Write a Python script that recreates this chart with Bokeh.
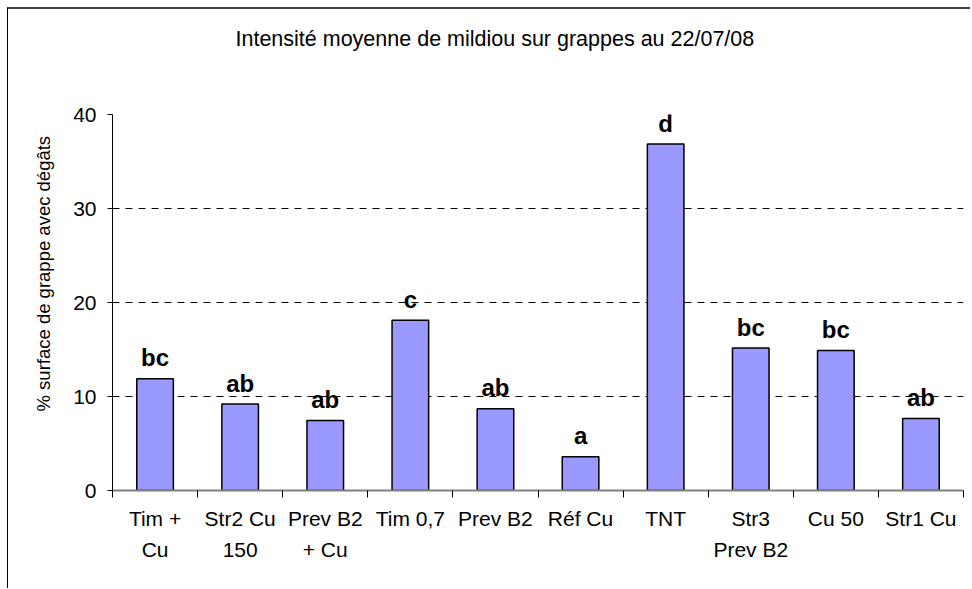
from bokeh.plotting import figure
from bokeh.models import (Range1d, LinearAxis, FixedTicker, ColumnDataSource, Title)
from bokeh.core.properties import value
from bokeh.embed import file_html
from bokeh.resources import INLINE

categories = ["Tim +\nCu", "Str2 Cu\n150", "Prev B2\n+ Cu", "Tim 0,7", "Prev B2",
              "Réf Cu", "TNT", "Str3\nPrev B2", "Cu 50", "Str1 Cu"]
values = [11.9, 9.2, 7.45, 18.1, 8.7, 3.6, 36.85, 15.15, 14.9, 7.65]
letters = ["bc", "ab", "ab", "c", "ab", "a", "d", "bc", "bc", "ab"]
y_ticks = [0, 10, 20, 30, 40]

title_text = "Intensité moyenne de mildiou sur grappes au 22/07/08"
y_label = "% surface de grappe avec dégâts"
FONT = "Liberation Sans"

n = len(categories)
centers = [i + 0.5 for i in range(n)]
bounds = list(range(n + 1))

p = figure(x_range=Range1d(0, n), y_range=Range1d(0, 40),
           frame_width=851, frame_height=376,
           min_border_left=104, min_border_right=7,
           min_border_top=0, min_border_bottom=98,
           x_axis_type=None, output_backend="svg", toolbar_location=None,
           background_fill_color="white", border_fill_color="white")
p.outline_line_color = None
p.styles = {"border-top": "2px solid #404040", "border-left": "1px solid #000000",
            "margin-left": "7px", "margin-top": "7px"}

# top title
p.title = Title(text=title_text, align="left", offset=123, vertical_align="bottom",
                text_font=FONT, text_font_size="21.5px", text_font_style="normal",
                text_color="black", standoff=30)
# spacer between title and plot area
p.add_layout(Title(text=" ", text_font_size="21px", standoff=24), "above")

# y axis
ya = p.yaxis[0]
ya.ticker = FixedTicker(ticks=y_ticks)
ya.axis_line_color = "black"
ya.axis_line_width = 1
ya.major_tick_line_color = "black"
ya.major_tick_out = 5
ya.major_tick_in = 0
ya.minor_tick_line_color = None
ya.major_label_text_font = FONT
ya.major_label_text_font_size = "21px"
ya.major_label_text_color = "black"
ya.major_label_standoff = 11

p.ygrid.ticker = FixedTicker(ticks=y_ticks[1:])
p.ygrid.grid_line_color = "black"
p.ygrid.grid_line_dash = "7 6"
p.ygrid.grid_line_width = 1

p.add_layout(Title(text=y_label, align="left", offset=79,
                   text_font=FONT, text_font_size="18.5px", text_font_style="normal",
                   text_color="black", standoff=34), "left")

# x axis: boundary ticks
tick_axis = LinearAxis(ticker=FixedTicker(ticks=bounds))
tick_axis.major_label_overrides = {b: "" for b in bounds}
tick_axis.axis_line_color = "#808080"
tick_axis.axis_line_width = 2
tick_axis.major_tick_line_color = "black"
tick_axis.major_tick_out = 7
tick_axis.major_tick_in = 0
tick_axis.minor_tick_line_color = None
tick_axis.major_label_standoff = 0
tick_axis.major_label_text_font_size = "1px"
p.add_layout(tick_axis, "below")

# x axis: category labels
cat_axis = LinearAxis(ticker=FixedTicker(ticks=centers))
cat_axis.major_label_overrides = {c: lab for c, lab in zip(centers, categories)}
cat_axis.axis_line_color = None
cat_axis.major_tick_line_color = None
cat_axis.minor_tick_line_color = None
cat_axis.major_label_text_font = FONT
cat_axis.major_label_text_font_size = "21px"
cat_axis.major_label_text_line_height = 1.35
cat_axis.major_label_text_color = "black"
cat_axis.major_label_standoff = 3
p.add_layout(cat_axis, "below")

src = ColumnDataSource(dict(x=centers, val=values, letter=letters))
p.vbar(x="x", top="val", bottom=0, width=0.43, source=src,
       fill_color="#9999FF", line_color="black", line_width=1.5)
p.text(x="x", y="val", text="letter", source=src,
       text_font=value(FONT), text_font_style="bold", text_font_size="24px",
       text_align="center", text_baseline="alphabetic", y_offset=-21,
       text_color="black")

open("out.html", "w").write(file_html(p, INLINE))
